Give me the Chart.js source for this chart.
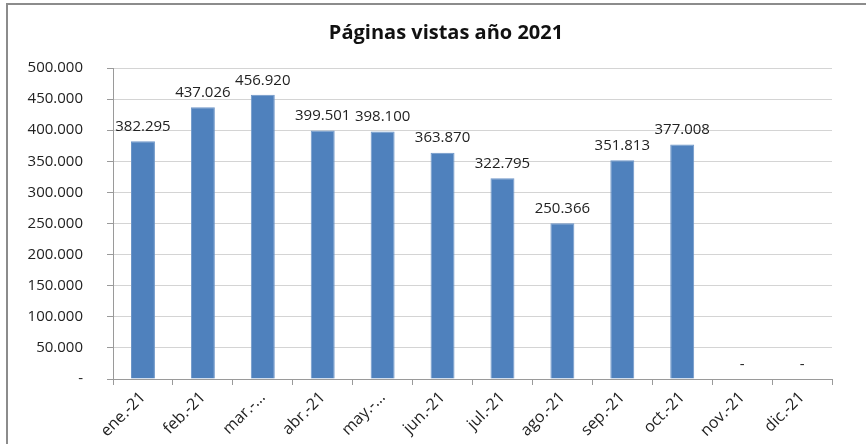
<!DOCTYPE html>
<html>
<head>
<meta charset="utf-8">
<script src="https://cdn.jsdelivr.net/npm/chart.js@4"></script>
<style>
  body { margin: 0; background: #fff; }
  #wrap { position: relative; width: 866px; height: 444px; }
  #marco { position: absolute; left: 6px; top: 3px; right: 0; bottom: 0;
           border-left: 2px solid #8c8c8c; border-top: 2px solid #8c8c8c; pointer-events: none; }
</style>
</head>
<body>
<div id="wrap">
  <canvas id="myChart" width="866" height="444"></canvas>
  <div id="marco"></div>
</div>
<script>
const titulo = 'Páginas vistas año 2021';
const meses = ['ene.-21', 'feb.-21', 'mar.-...', 'abr.-21', 'may.-...', 'jun.-21',
               'jul.-21', 'ago.-21', 'sep.-21', 'oct.-21', 'nov.-21', 'dic.-21'];
const visitas = [382295, 437026, 456920, 399501, 398100, 363870,
                 322795, 250366, 351813, 377008, 0, 0];
const yMax = 500000;
const yPaso = 50000;

function formatoMiles(v) {
    if (v === 0) return '-';
    return String(v).replace(/\B(?=(\d{3})+(?!\d))/g, '.');
}

// titulo centrado sobre todo el marco (no sobre el area del grafico)
const tituloPlugin = {
    id: 'tituloPlugin',
    afterDraw(chart) {
        const ctx = chart.ctx;
        ctx.save();
        ctx.font = 'bold 20px "Open Sans"';
        ctx.fillStyle = '#111';
        ctx.textAlign = 'center';
        ctx.textBaseline = 'middle';
        ctx.fillText(titulo, 446, 33);
        ctx.restore();
    }
};

// etiquetas encima de cada barra
const etiquetas = {
    id: 'etiquetas',
    afterDatasetsDraw(chart) {
        const ctx = chart.ctx;
        const meta = chart.getDatasetMeta(0);
        ctx.save();
        ctx.font = '15px "Open Sans"';
        ctx.fillStyle = '#222';
        ctx.textAlign = 'center';
        ctx.textBaseline = 'bottom';
        meta.data.forEach((bar, i) => {
            ctx.fillText(formatoMiles(visitas[i]), bar.x, bar.y - 7);
        });
        ctx.restore();
    }
};

const config = {
    type: 'bar',
    data: {
        labels: meses,
        datasets: [{
            data: visitas,
            backgroundColor: '#4f81bd',
            borderColor: '#6e96c8',
            borderWidth: 1,
            barPercentage: 0.4,
            categoryPercentage: 1.0
        }]
    },
    options: {
        responsive: false,
        animation: false,
        layout: { padding: { left: 0, right: 34, top: 68, bottom: 0 } },
        plugins: {
            legend: { display: false },
            tooltip: { enabled: false },
            title: { display: false }
        },
        scales: {
            x: {
                offset: true,
                grid: { display: true, drawOnChartArea: false, drawTicks: true, tickLength: 6,
                        offset: true, color: '#9a9a9a' },
                border: { color: '#9a9a9a' },
                ticks: {
                    minRotation: 45, maxRotation: 45, autoSkip: false,
                    color: '#222', padding: 3,
                    font: { family: 'Open Sans', size: 16 }
                },
                afterFit(scale) { scale.height = 65; }
            },
            y: {
                min: 0, max: yMax,
                ticks: {
                    stepSize: yPaso, color: '#222', padding: 24,
                    font: { family: 'Open Sans', size: 15 },
                    callback: (v) => formatoMiles(v)
                },
                grid: { color: '#d4d4d4', tickLength: 6, tickColor: '#9a9a9a' },
                border: { color: '#9a9a9a' },
                afterFit(scale) { scale.width = 113; }
            }
        }
    },
    plugins: [etiquetas, tituloPlugin]
};

const myChart = new Chart(document.getElementById('myChart'), config);
</script>
</body>
</html>
